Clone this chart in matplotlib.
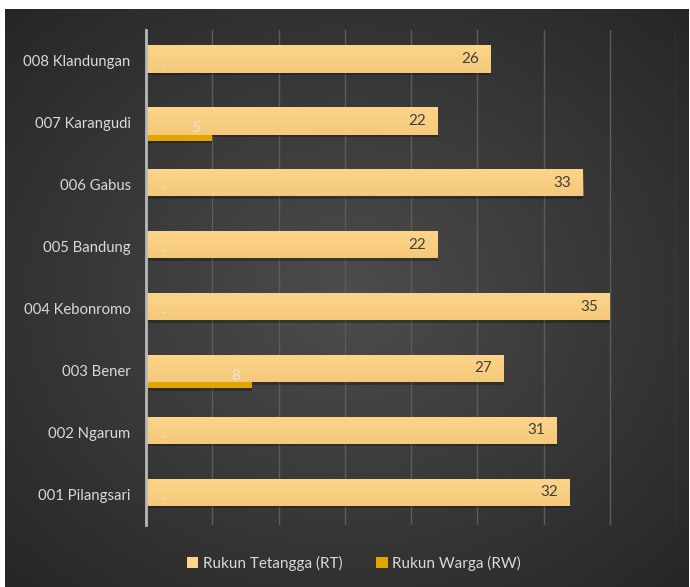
import numpy as np
import matplotlib
matplotlib.use("Agg")
import matplotlib.pyplot as plt
from matplotlib.patches import Patch

categories = ["008 Klandungan", "007 Karangudi", "006 Gabus", "005 Bandung",
              "004 Kebonromo", "003 Bener", "002 Ngarum", "001 Pilangsari"]
rt = [26, 22, 33, 22, 35, 27, 31, 32]
rw = [0, 5, 0, 0, 0, 8, 0, 0]
series_names = ["Rukun Tetangga (RT)", "Rukun Warga (RW)"]

plt.rcParams['font.family'] = ['Lato', 'DejaVu Sans']

W, H = 690, 587
fig = plt.figure(figsize=(W / 100, H / 100), dpi=100)
fig.patch.set_facecolor("white")

# background with radial gradient
bg = fig.add_axes([5 / W, 0, 1 - 6 / W, 1 - 9 / H])
bg.set_axis_off()
yy, xx = np.mgrid[-1:1:300j, -1:1:350j]
r = np.sqrt(xx ** 2 + yy ** 2) / np.sqrt(2)
c = 0.30 - 0.15 * r
img = np.dstack([c, c, c])
bg.imshow(img, aspect='auto', extent=(0, 1, 0, 1), interpolation='bilinear')
bg.set_xlim(0, 1); bg.set_ylim(0, 1)

ax = fig.add_axes([146 / W, 1 - 525 / H, (676 - 146) / W, (525 - 30) / H])
ax.set_facecolor("none")
n = len(categories)
y = np.arange(n)

rt_col = "#FCD58A"
rw_col = "#E2A500"
h = 0.44
off = 0.10
yc = y - 0.03

# shadows
ax.barh(yc + 0.04, rt, height=h, color="black", alpha=0.25, zorder=2)
ax.barh(yc + off + 0.04, rw, height=h, color="black", alpha=0.25, zorder=1.5)
ax.barh(yc + off, rw, height=h, color=rw_col, zorder=2.5, label=series_names[1])
bars = ax.barh(yc, rt, height=h, color=rt_col, zorder=3, label=series_names[0])

# gradient overlay on RT bars
grad = np.linspace(0, 1, 50).reshape(-1, 1)
for b in bars:
    x0, y0 = b.get_x(), b.get_y()
    im = ax.imshow(np.dstack([np.full_like(grad, 0.93), np.full_like(grad, 0.74),
                              np.full_like(grad, 0.42), grad * 0.5]),
                   extent=(x0, x0 + b.get_width(), y0 + b.get_height(), y0),
                   aspect='auto', zorder=3.1, interpolation='bilinear')
    im.set_clip_path(b)

ax.set_xlim(0, 40)
ax.set_ylim(n - 0.5, -0.5)
ax.set_xticks(np.arange(0, 41, 5))
ax.grid(axis='x', color="#5c5c5c", linewidth=1, zorder=0)
ax.set_axisbelow(True)
ax.tick_params(axis='x', length=0, labelbottom=False)
ax.tick_params(axis='y', length=0, pad=11, labelsize=10.7, labelcolor="#d9d9d9")
ax.set_yticks(y)
ax.set_yticklabels(categories)
for s in ["top", "right", "bottom"]:
    ax.spines[s].set_visible(False)
ax.spines["left"].set_color("#b8b8b8")
ax.spines["left"].set_linewidth(2)
ax.spines["left"].set_zorder(5)

for i, v in enumerate(rt):
    ax.text(v - 0.9, yc[i], str(v), ha='right', va='center', fontsize=11,
            color="#404040", zorder=6)
for i, v in enumerate(rw):
    lab = str(v) if v else "-"
    xpos = v - 0.9 if v else 1.3
    ax.text(xpos, yc[i] + off + 0.02, lab, ha='right' if v else 'center', va='center',
            fontsize=11, color="#e6e3dc", zorder=6)

handles = [Patch(facecolor=rt_col, edgecolor='none'), Patch(facecolor=rw_col, edgecolor='none')]
leg = fig.legend(handles, series_names, loc='center', bbox_to_anchor=(354 / W, 1 - 563 / H),
                 ncol=2, frameon=False, fontsize=11, labelcolor="#d9d9d9",
                 handlelength=0.75, handleheight=0.75, handletextpad=0.3, columnspacing=2.2)

fig.savefig("out.png", dpi=100, facecolor=fig.get_facecolor())
